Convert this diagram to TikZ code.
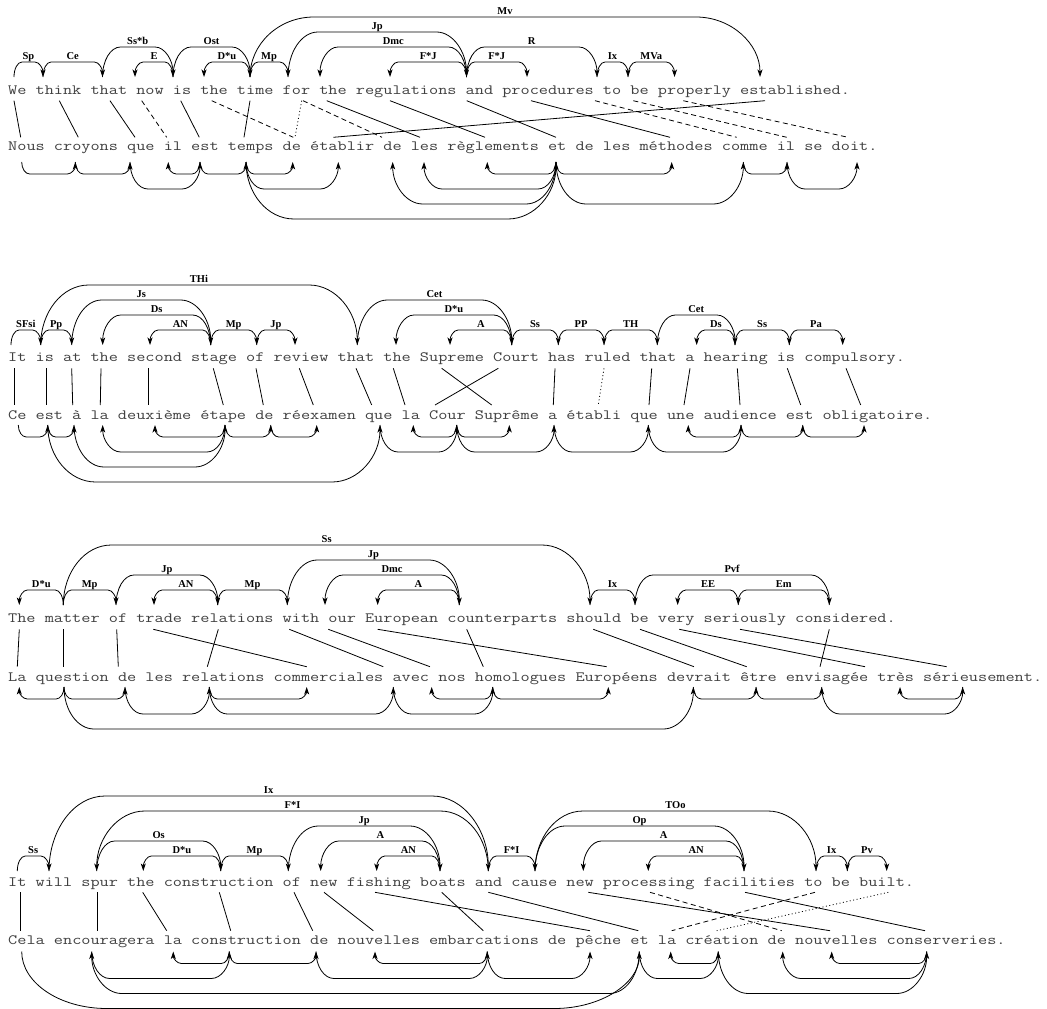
\documentclass[tikz,border=0pt]{standalone}
\usepackage{fontspec}
\usepackage{graphicx}
\newfontfamily\labf{Liberation Serif}
\usetikzlibrary{arrows.meta,calc}
\tikzset{
  sent/.style={anchor=base west, inner sep=0pt, text=black!75},
  lab/.style={font=\labf\bfseries\fontsize{10.5}{11}\selectfont, anchor=base, yshift=2.5pt, inner sep=0pt, pos=0.5},
  lk/.style={line width=0.8pt, -{Stealth[length=7.5pt,width=5pt,inset=2pt]}},
  al/.style={line width=0.8pt},
  ald/.style={al, dash pattern=on 5pt off 3.5pt},
  alo/.style={al, dash pattern=on 1pt off 2.5pt},
}
\newcommand\mono[2]{\resizebox{\dimexpr 9.15pt*#1\relax}{!}{\scalebox{1}[0.8]{\ttfamily\fontsize{17.5}{18}\selectfont #2}}}
\newcommand\myrad[1]{\pgfmathsetmacro\myR{ifthenelse(#1==1,8,ifthenelse(#1==2,18,ifthenelse(#1==3,30,ifthenelse(#1==4,48,56))))}}
% arc above a sentence: tail, head, level, label
\newcommand\uaw[5]{\pgfmathsetmacro\myH{15*#3}\pgfmathsetmacro\myR{#5}%
  \draw[lk] let \p1=(#1), \p2=(#2), \n1={sign(\x2-\x1)}, \n2={min(\myR,abs(\x2-\x1)/2)} in
   (\p1) .. controls (\x1,\y1+0.552*\myH) and (\x1+0.448*\n1*\n2,\y1+\myH) .. (\x1+\n1*\n2,\y1+\myH)
   -- node[lab]{#4} (\x2-\n1*\n2,\y1+\myH)
   .. controls (\x2-0.448*\n1*\n2,\y1+\myH) and (\x2,\y1+0.552*\myH) .. (\p2);}
\newcommand\ua[4]{\myrad{#3}\uaw{#1}{#2}{#3}{#4}{\myR}}
% arc below a sentence: tail, head, level
\newcommand\daw[4]{\pgfmathsetmacro\myH{15*#3-3}\pgfmathsetmacro\myR{#4}%
  \draw[lk] let \p1=(#1), \p2=(#2), \n1={sign(\x2-\x1)}, \n2={min(\myR,abs(\x2-\x1)/2)} in
   (\p1) .. controls (\x1,\y1-0.552*\myH) and (\x1+0.448*\n1*\n2,\y1-\myH) .. (\x1+\n1*\n2,\y1-\myH)
   -- (\x2-\n1*\n2,\y1-\myH)
   .. controls (\x2-0.448*\n1*\n2,\y1-\myH) and (\x2,\y1-0.552*\myH) .. (\p2);}
\newcommand\da[3]{\myrad{#3}\daw{#1}{#2}{#3}{\myR}}
\begin{document}
\begin{tikzpicture}[x=1pt,y=-1pt]
\path[fill=white] (0,0) rectangle (1047,1009);
\useasboundingbox (0,0) rectangle (1047,1009);
% ---------------- sentences
\node[sent] (s1en) at (8,94) {\mono{92}{We think that now is the time for the regulations and procedures to be properly established.}};
\node[sent] (s1fr) at (8,150) {\mono{95}{Nous croyons que il est temps de établir de les règlements et de les méthodes comme il se doit.}};
\node[sent] (s2en) at (8,361) {\mono{98}{It is at the second stage of review that the Supreme Court has ruled that a hearing is compulsory.}};
\node[sent] (s2fr) at (8,419) {\mono{101}{Ce est à la deuxième étape de réexamen que la Cour Suprême a établi que une audience est obligatoire.}};
\node[sent] (s3en) at (8,622.5) {\mono{97}{The matter of trade relations with our European counterparts should be very seriously considered.}};
\node[sent] (s3fr) at (8,681) {\mono{113}{La question de les relations commerciales avec nos homologues Européens devrait être envisagée très sérieusement.}};
\node[sent] (s4en) at (8,886) {\mono{99}{It will spur the construction of new fishing boats and cause new processing facilities to be built.}};
\node[sent] (s4fr) at (8,944) {\mono{109}{Cela encouragera la construction de nouvelles embarcations de pêche et la création de nouvelles conserveries.}};
% ================= sentence 1
\foreach \n/\x in {We/14,think/43,that/102.5,now/135,is/173,the/204,time/250,for/288,theb/320,regulations/390,and/466.5,procedures/527,to/597,be/628,properly/674.5,established/760}
  \coordinate (s1u-\n) at (\x,77);
\foreach \n/\x in {Nous/21.7,croyons/75.3,que/130,il/168.3,est/200,temps/246,de/292.7,etablir/338.3,deb/392.7,les/424,reglements/487.3,et/556,methodes/671.7,comme/743.3,ilb/787,doit/857}
  \coordinate (s1d-\n) at (\x,162);
\ua{s1u-We}{s1u-think}{1}{Sp}
\ua{s1u-think}{s1u-that}{1}{Ce}
\ua{s1u-that}{s1u-is}{2}{Ss*b}
\ua{s1u-is}{s1u-now}{1}{E}
\ua{s1u-is}{s1u-time}{2}{Ost}
\ua{s1u-time}{s1u-the}{1}{D*u}
\ua{s1u-time}{s1u-for}{1}{Mp}
\ua{s1u-for}{s1u-and}{3}{Jp}
\ua{s1u-and}{s1u-theb}{2}{Dmc}
\ua{s1u-and}{s1u-regulations}{1}{F*J}
\ua{s1u-and}{s1u-procedures}{1}{F*J}
\ua{s1u-and}{s1u-to}{2}{R}
\ua{s1u-to}{s1u-be}{1}{Ix}
\ua{s1u-be}{s1u-properly}{1}{MVa}
\uaw{s1u-time}{s1u-established}{4}{Mv}{64}
\da{s1d-Nous}{s1d-croyons}{1}
\da{s1d-croyons}{s1d-que}{1}
\da{s1d-que}{s1d-est}{2}
\da{s1d-est}{s1d-il}{1}
\da{s1d-est}{s1d-temps}{1}
\da{s1d-temps}{s1d-de}{1}
\da{s1d-temps}{s1d-etablir}{2}
\da{s1d-temps}{s1d-et}{4}
\da{s1d-et}{s1d-deb}{3}
\da{s1d-et}{s1d-les}{2}
\da{s1d-et}{s1d-reglements}{1}
\da{s1d-et}{s1d-methodes}{1}
\da{s1d-et}{s1d-comme}{3}
\da{s1d-comme}{s1d-ilb}{1}
\da{s1d-ilb}{s1d-doit}{2}
\foreach \i/\a/\b/\s in {1/14/20.7/al,2/59.3/78.3/al,3/110/135/al,4/141.7/166.7/ald,5/180.7/199.3/al,6/211.7/293.3/ald,7/250/244/al,8/301.7/295/alo,9/303/382/ald,10/326.7/420/al,11/390/485/al,12/466.7/556/al,13/531/670/al,14/595/736.7/ald,15/633.3/786.7/ald,16/683.3/848/ald,17/765/333.3/al}
  {\coordinate (s1t\i) at (\a,100.7); \coordinate (s1b\i) at (\b,137.3); \draw[\s] (s1t\i) -- (s1b\i);}
% ================= sentence 2
\foreach \n/\x in {It/11,is/40.7,at/71.7,the/102.7,second/150,stage/210.7,of/256.7,review/295,that/357.3,theb/396,Supreme/450,Court/511.7,has/558.3,ruled/604,thatb/657.3,a/696.7,hearing/735,isb/789.3,compulsory/842.7}
  \coordinate (s2u-\n) at (\x,345);
\foreach \n/\x in {Ce/18.3,est/47.7,a/74,la/102.7,deuxieme/155,etape/225,de/270.7,reexamen/316.7,que/380,lab/413.3,Cour/456.7,Supreme/509.3,ab/554,queb/648.3,une/688.3,audience/741,estb/802.7,obligatoire/864}
  \coordinate (s2d-\n) at (\x,425);
\ua{s2u-It}{s2u-is}{1}{SFsi}
\ua{s2u-is}{s2u-at}{1}{Pp}
\ua{s2u-is}{s2u-that}{4}{THi}
\ua{s2u-at}{s2u-stage}{3}{Js}
\ua{s2u-stage}{s2u-the}{2}{Ds}
\ua{s2u-stage}{s2u-second}{1}{AN}
\ua{s2u-stage}{s2u-of}{1}{Mp}
\ua{s2u-of}{s2u-review}{1}{Jp}
\ua{s2u-that}{s2u-Court}{3}{Cet}
\ua{s2u-Court}{s2u-theb}{2}{D*u}
\ua{s2u-Court}{s2u-Supreme}{1}{A}
\ua{s2u-Court}{s2u-has}{1}{Ss}
\ua{s2u-has}{s2u-ruled}{1}{PP}
\ua{s2u-ruled}{s2u-thatb}{1}{TH}
\ua{s2u-thatb}{s2u-hearing}{2}{Cet}
\ua{s2u-hearing}{s2u-a}{1}{Ds}
\ua{s2u-hearing}{s2u-isb}{1}{Ss}
\ua{s2u-isb}{s2u-compulsory}{1}{Pa}
\da{s2d-Ce}{s2d-est}{1}
\da{s2d-est}{s2d-a}{1}
\da{s2d-a}{s2d-etape}{3}
\da{s2d-etape}{s2d-la}{2}
\da{s2d-etape}{s2d-deuxieme}{1}
\da{s2d-etape}{s2d-de}{1}
\da{s2d-de}{s2d-reexamen}{1}
\da{s2d-est}{s2d-que}{4}
\da{s2d-que}{s2d-Cour}{2}
\da{s2d-Cour}{s2d-lab}{1}
\da{s2d-Cour}{s2d-Supreme}{1}
\da{s2d-Cour}{s2d-ab}{2}
\da{s2d-ab}{s2d-queb}{2}
\da{s2d-queb}{s2d-audience}{2}
\da{s2d-audience}{s2d-une}{1}
\da{s2d-audience}{s2d-estb}{1}
\da{s2d-estb}{s2d-obligatoire}{1}
\foreach \i/\a/\b/\s in {1/14/14/al,2/46/46/al,3/71.7/72.7/al,4/101/100.3/al,5/148.3/148.3/al,6/213.3/223.3/al,7/256/263.3/al,8/299.3/313.3/al,9/356/371.7/al,10/393.3/405/al,11/441.7/491.7/al,12/498.3/435/al,13/555/553.3/al,14/604/598.3/alo,15/651.7/649/al,16/690/684/al,17/737.3/740/al,18/787.3/800.7/al,19/846/860.7/al}
  {\coordinate (s2t\i) at (\a,368.3); \coordinate (s2b\i) at (\b,405); \draw[\s] (s2t\i) -- (s2b\i);}
% ================= sentence 3
\foreach \n/\x in {The/19.3,matter/63.3,of/116,trade/154,relations/217.7,with/287.3,our/325,European/377.7,counterparts/459.3,should/590,be/635,very/677.7,seriously/738.3,considered/829.3}
  \coordinate (s3u-\n) at (\x,605);
\foreach \n/\x in {La/19.3,question/64,de/125,relations/209.3,commerciales/306.7,avec/393.3,nos/431.7,homologues/492.7,Europeens/608.3,devrait/693.3,etre/756,envisagee/821.7,tres/900,serieusement/962.7}
  \coordinate (s3d-\n) at (\x,687);
\ua{s3u-matter}{s3u-The}{1}{D*u}
\ua{s3u-matter}{s3u-of}{1}{Mp}
\ua{s3u-matter}{s3u-should}{4}{Ss}
\ua{s3u-of}{s3u-relations}{2}{Jp}
\ua{s3u-relations}{s3u-trade}{1}{AN}
\ua{s3u-relations}{s3u-with}{1}{Mp}
\ua{s3u-with}{s3u-counterparts}{3}{Jp}
\ua{s3u-counterparts}{s3u-our}{2}{Dmc}
\ua{s3u-counterparts}{s3u-European}{1}{A}
\ua{s3u-should}{s3u-be}{1}{Ix}
\ua{s3u-be}{s3u-considered}{2}{Pvf}
\ua{s3u-seriously}{s3u-very}{1}{EE}
\ua{s3u-considered}{s3u-seriously}{1}{Em}
\da{s3d-question}{s3d-La}{1}
\da{s3d-question}{s3d-de}{1}
\da{s3d-question}{s3d-devrait}{3}
\da{s3d-de}{s3d-relations}{2}
\da{s3d-relations}{s3d-commerciales}{1}
\da{s3d-relations}{s3d-avec}{2}
\da{s3d-avec}{s3d-homologues}{2}
\da{s3d-homologues}{s3d-nos}{1}
\da{s3d-homologues}{s3d-Europeens}{1}
\da{s3d-devrait}{s3d-etre}{1}
\da{s3d-etre}{s3d-envisagee}{1}
\da{s3d-envisagee}{s3d-serieusement}{2}
\da{s3d-serieusement}{s3d-tres}{1}
\foreach \i/\a/\b/\s in {1/19.3/17.3/al,2/63.3/63.3/al,3/116.7/118.3/al,4/153.3/306.7/al,5/218.3/207.3/al,6/289.3/383.3/al,7/328.3/430/al,8/377.7/606.7/al,9/466.7/483.3/al,10/593.3/694/al,11/640/746.7/al,12/679.3/865/al,13/740/946.7/al,14/829.3/820/al}
  {\coordinate (s3t\i) at (\a,629.3); \coordinate (s3b\i) at (\b,666.7); \draw[\s] (s3t\i) -- (s3b\i);}
% ================= sentence 4
\foreach \n/\x in {It/17.3,will/49,spur/96.7,the/143.3,construction/220.7,of/288.3,new/320.7,fishing/376.7,boats/440,and/488.3,cause/535,newb/583.3,processing/648.3,facilities/744,to/816,be/847.3,built/886.7}
  \coordinate (s4u-\n) at (\x,871);
\foreach \n/\x in {Cela/21.7,encouragera/91.7,la/173.3,construction/229.3,de/316,nouvelles/375,embarcations/487.3,peche/590,et/639.3,lab/670.7,creation/718.3,deb/782.7,nouvellesb/831.7,conserveries/926.7}
  \coordinate (s4d-\n) at (\x,951.5);
\ua{s4u-It}{s4u-will}{1}{Ss}
\ua{s4u-will}{s4u-and}{5}{Ix}
\ua{s4u-and}{s4u-spur}{4}{F*I}
\ua{s4u-spur}{s4u-construction}{2}{Os}
\ua{s4u-construction}{s4u-the}{1}{D*u}
\ua{s4u-construction}{s4u-of}{1}{Mp}
\ua{s4u-of}{s4u-boats}{3}{Jp}
\ua{s4u-boats}{s4u-new}{2}{A}
\ua{s4u-boats}{s4u-fishing}{1}{AN}
\ua{s4u-and}{s4u-cause}{1}{F*I}
\ua{s4u-cause}{s4u-to}{4}{TOo}
\ua{s4u-cause}{s4u-facilities}{3}{Op}
\ua{s4u-facilities}{s4u-newb}{2}{A}
\ua{s4u-facilities}{s4u-processing}{1}{AN}
\ua{s4u-to}{s4u-be}{1}{Ix}
\ua{s4u-be}{s4u-built}{1}{Pv}
\daw{s4d-Cela}{s4d-et}{4}{85}
\da{s4d-et}{s4d-encouragera}{3}
\da{s4d-encouragera}{s4d-construction}{2}
\da{s4d-construction}{s4d-la}{1}
\da{s4d-construction}{s4d-de}{1}
\da{s4d-de}{s4d-embarcations}{2}
\da{s4d-embarcations}{s4d-nouvelles}{1}
\da{s4d-embarcations}{s4d-peche}{2}
\da{s4d-et}{s4d-creation}{2}
\da{s4d-creation}{s4d-lab}{1}
\da{s4d-creation}{s4d-conserveries}{3}
\da{s4d-conserveries}{s4d-deb}{2}
\da{s4d-conserveries}{s4d-nouvellesb}{1}
\foreach \i/\a/\b/\s in {1/20.7/20.7/al,2/97.3/97.3/al,3/142.7/166.7/al,4/219.3/230.7/al,5/294/312.7/al,6/324/373.3/al,7/375/590/al,8/441.7/483.3/al,9/488.3/638.3/al,10/588.3/830/al,11/650/781.7/ald,12/745/925/al,13/815/671.7/ald,14/888.3/716.7/alo}
  {\coordinate (s4t\i) at (\a,892.3); \coordinate (s4b\i) at (\b,930.7); \draw[\s] (s4t\i) -- (s4b\i);}
\end{tikzpicture}
\end{document}
